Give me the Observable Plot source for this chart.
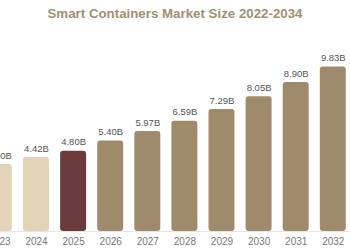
<!DOCTYPE html>
<html>
<head>
<meta charset="utf-8">
<script src="https://cdn.jsdelivr.net/npm/d3@7"></script>
<script src="https://cdn.jsdelivr.net/npm/@observablehq/plot@0.6"></script>
<style>
  html, body { margin: 0; padding: 0; background: #fff; }
  #chart { position: relative; width: 350px; height: 250px; overflow: hidden; font-family: "Liberation Sans", Arial, sans-serif; }
  #title { position: absolute; top: 6px; left: 0; width: 350px; text-align: center; font-size: 13.3px; font-weight: bold; color: #a38f70; z-index: 1; }
  #chart svg { position: absolute; left: 0; top: 0; }
</style>
</head>
<body>
<div id="chart">
  <div id="title">Smart Containers Market Size 2022-2034</div>
</div>
<script>
// Full year axis of the report; only the years shown in the view carry values
const allYears = ["2022","2023","2024","2025","2026","2027","2028","2029","2030","2031","2032","2033","2034"];
const years  = ["2023","2024","2025","2026","2027","2028","2029","2030","2031","2032"];
const values = [4.00, 4.42, 4.80, 5.40, 5.97, 6.59, 7.29, 8.05, 8.90, 9.83];
const labels = ["4.00B","4.42B","4.80B","5.40B","5.97B","6.59B","7.29B","8.05B","8.90B","9.83B"];
const kinds  = ["historical","historical","current","forecast","forecast","forecast","forecast","forecast","forecast","forecast"];

const data = years.map((y, i) => ({year: y, value: values[i], label: labels[i], kind: kinds[i]}));

const chart = Plot.plot({
  width: 350,
  height: 250,
  marginLeft: 0,
  marginRight: 0,
  marginTop: 30,
  marginBottom: 19,
  style: {fontFamily: "'Liberation Sans', Arial, sans-serif", background: "transparent"},
  x: {type: "band", domain: allYears, range: [-62.3, 431.1], padding: 0.3, round: false, label: null},
  y: {domain: [0, 12], range: [231, 30.1], axis: null},
  color: {domain: ["historical", "current", "forecast"], range: ["#e3d4b8", "#6e3b3c", "#a08a6c"]},
  marks: [
    Plot.ruleY([0], {stroke: "#e6e6e6", strokeWidth: 1}),
    Plot.barY(data, {x: "year", y: "value", fill: "kind", rx: 3}),
    Plot.text(data, {x: "year", y: "value", text: "label", dy: -9, fontSize: 9.5, fill: "#555"}),
    Plot.axisX({tickSize: 0, tickPadding: 6, fontSize: 10, color: "#777", label: null})
  ]
});
document.getElementById("chart").appendChild(chart);
</script>
</body>
</html>
